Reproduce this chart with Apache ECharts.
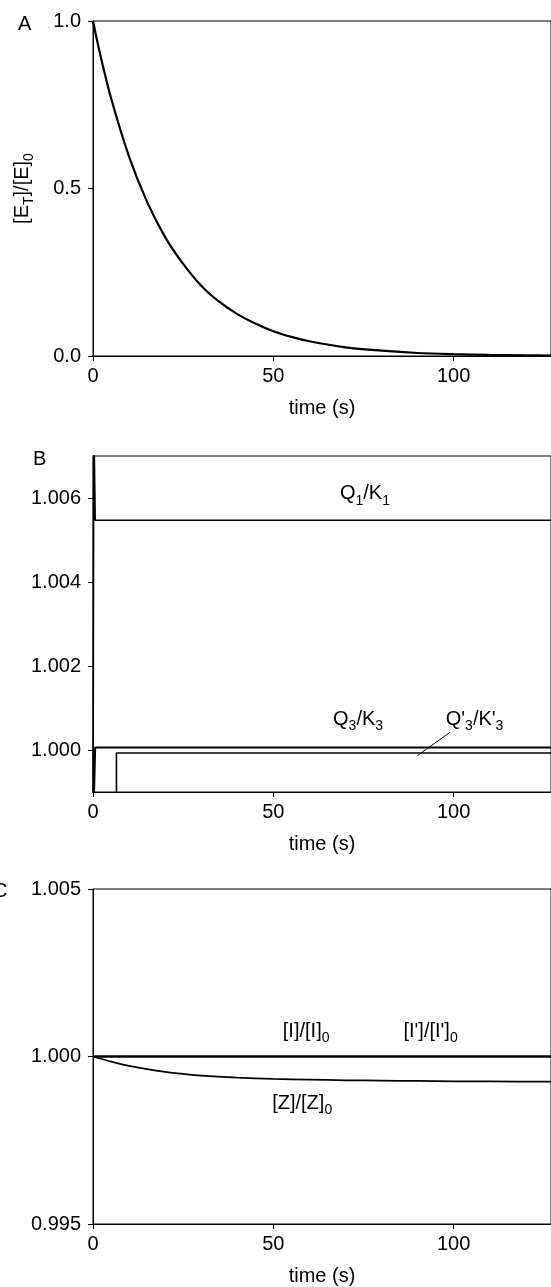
<!DOCTYPE html>
<html>
<head>
    <meta charset="utf-8">
    <title>time course</title>
    <script src="https://cdn.jsdelivr.net/npm/echarts@6/dist/echarts.min.js"></script>
    <style>
        html, body { margin: 0; padding: 0; background: #fff; }
        #main { width: 551px; height: 1287px; }
    </style>
</head>
<body>
<div id="main"></div>

<script type="text/javascript">
    var FONT = 'Liberation Sans, Arial, Helvetica, sans-serif';

    // tick labels
    var ticksX = [0, 50, 100];
    var ticksA = [0, 0.5, 1];
    var ticksB = [1.000, 1.002, 1.004, 1.006];
    var ticksC = [0.995, 1.000, 1.005];

    // panel A : [ET]/[E]0
    var timeA = [0, 2, 5, 10, 15, 20, 25, 30, 35, 40, 45, 50, 55, 60, 70, 80, 90, 100, 110, 120, 127];
    var enzA = [1.0, 0.90, 0.77, 0.595, 0.46, 0.355, 0.275, 0.21, 0.162, 0.125, 0.097, 0.074, 0.057, 0.044, 0.026, 0.016, 0.009, 0.0055, 0.0033, 0.002, 0.0015];

    // panel B : Q/K ratios
    var timeQ1 = [0, 0.2, 0.6, 127];
    var q1 = [0.998, 1.008, 1.00547, 1.00547];
    var timeQ3 = [0, 0.6, 127];
    var q3 = [0.998, 1.00006, 1.00006];
    var timeQ3p = [6.5, 6.5, 127];
    var q3p = [0.998, 0.99993, 0.99993];
    var timeLead = [90, 99];
    var lead = [0.99987, 1.00042];

    // panel C : concentrations
    var timeI = [0, 127];
    var iC = [1.0, 1.0];
    var iPC = [1.0, 1.0];
    var timeZ = [0, 5, 10, 15, 20, 25, 30, 40, 50, 60, 70, 80, 90, 100, 110, 127];
    var zC = [1.0, 0.99985, 0.99972, 0.99962, 0.99954, 0.99948, 0.99943, 0.99937, 0.99933, 0.99931, 0.99929, 0.99928, 0.99927, 0.99926, 0.999255, 0.99925];

    // text labels inside the panels: [panel, time, value, text]
    var notes = [
        [1, 75.4, 1.00605, '{m|Q}{s|1}{m|/K}{s|1}'],
        [1, 73.5, 1.00068, '{m|Q}{s|3}{m|/K}{s|3}'],
        [1, 105.8, 1.00068, "{m|Q'}{s|3}{m|/K'}{s|3}"],
        [2, 59.1, 1.00070, '{m|[I]/[I]}{s|0}'],
        [2, 93.6, 1.00070, "{m|[I']/[I']}{s|0}"],
        [2, 58.0, 0.99855, '{m|[Z]/[Z]}{s|0}']
    ];

    function pairs(xs, ys) {
        var out = [];
        for (var i = 0; i < xs.length; i++) {
            out.push([xs[i], ys[i]]);
        }
        return out;
    }

    var richText = {
        m: { fontSize: 20, fontFamily: FONT, color: '#000', lineHeight: 24, verticalAlign: 'top' },
        s: { fontSize: 14, fontFamily: FONT, color: '#000', lineHeight: 12, verticalAlign: 'bottom' }
    };

    function xAx(i) {
        return {
            type: 'value', gridIndex: i, min: 0, max: 127,
            name: 'time (s)', nameLocation: 'middle', nameGap: 42,
            nameTextStyle: { fontSize: 20, color: '#000', fontFamily: FONT },
            axisLine: { lineStyle: { color: '#000', width: 1 } },
            axisTick: { show: true, length: 5, customValues: ticksX, lineStyle: { color: '#000' } },
            axisLabel: { customValues: ticksX, fontSize: 20, color: '#000', margin: 10, fontFamily: FONT },
            splitLine: { show: false }
        };
    }

    function yAx(i, min, max, ticks, digits) {
        return {
            type: 'value', gridIndex: i, min: min, max: max,
            axisLine: { show: true, lineStyle: { color: '#000', width: 1 } },
            axisTick: { show: true, length: 5, customValues: ticks, lineStyle: { color: '#000' } },
            axisLabel: {
                customValues: ticks, fontSize: 20, color: '#000', margin: 12, fontFamily: FONT,
                formatter: function (v) { return v.toFixed(digits); }
            },
            splitLine: { show: false }
        };
    }

    function line(i, name, xs, ys, width, smooth) {
        return {
            type: 'line', name: name, xAxisIndex: i, yAxisIndex: i,
            data: pairs(xs, ys), showSymbol: false, smooth: smooth ? 0.3 : false,
            lineStyle: { color: '#000', width: width }, clip: true, silent: true
        };
    }

    var series = [
        line(0, 'ET', timeA, enzA, 2.2, true),
        line(1, 'Q1/K1', timeQ1, q1, 1.7, false),
        line(1, 'Q3/K3', timeQ3, q3, 2, false),
        line(1, "Q'3/K'3", timeQ3p, q3p, 1.6, false),
        line(1, 'lead', timeLead, lead, 1, false),
        line(2, '[I]/[I]0', timeI, iC, 2, false),
        line(2, "[I']/[I']0", timeI, iPC, 2, false),
        line(2, '[Z]/[Z]0', timeZ, zC, 1.8, true)
    ];

    notes.forEach(function (n) {
        series.push({
            type: 'scatter', xAxisIndex: n[0], yAxisIndex: n[0], symbolSize: 0, silent: true,
            itemStyle: { opacity: 1, color: '#000' },
            data: [[n[1], n[2]]],
            label: { show: true, position: 'inside', color: '#000', opacity: 1, textBorderWidth: 0,
                formatter: n[3], rich: richText }
        });
    });

    var myChart = echarts.init(document.getElementById('main'));
    var yA = yAx(0, 0, 1, ticksA, 1);
    yA.name = '{m|[E}{s|T}{m|]/[E]}{s|0}';
    yA.nameLocation = 'middle';
    yA.nameGap = 57;
    yA.nameTextStyle = { rich: richText };

    myChart.setOption({
        animation: false,
        backgroundColor: '#fff',
        grid: [
            { left: 93, right: -2, top: 21, height: 335, show: true, borderColor: '#000', borderWidth: 1 },
            { left: 93, right: -2, top: 456, height: 336, show: true, borderColor: '#000', borderWidth: 1 },
            { left: 93, right: -2, top: 889, height: 337, show: true, borderColor: '#000', borderWidth: 1 }
        ],
        xAxis: [xAx(0), xAx(1), xAx(2)],
        yAxis: [yA, yAx(1, 0.999, 1.007, ticksB, 3), yAx(2, 0.995, 1.005, ticksC, 3)],
        graphic: [
            { type: 'text', left: 18, top: 14, style: { text: 'A', fontSize: 20, fontFamily: FONT, fill: '#000' } },
            { type: 'text', left: 33, top: 449, style: { text: 'B', fontSize: 20, fontFamily: FONT, fill: '#000' } },
            { type: 'text', left: -7, top: 881, style: { text: 'C', fontSize: 20, fontFamily: FONT, fill: '#000' } }
        ],
        series: series
    });
</script>
</body>
</html>
